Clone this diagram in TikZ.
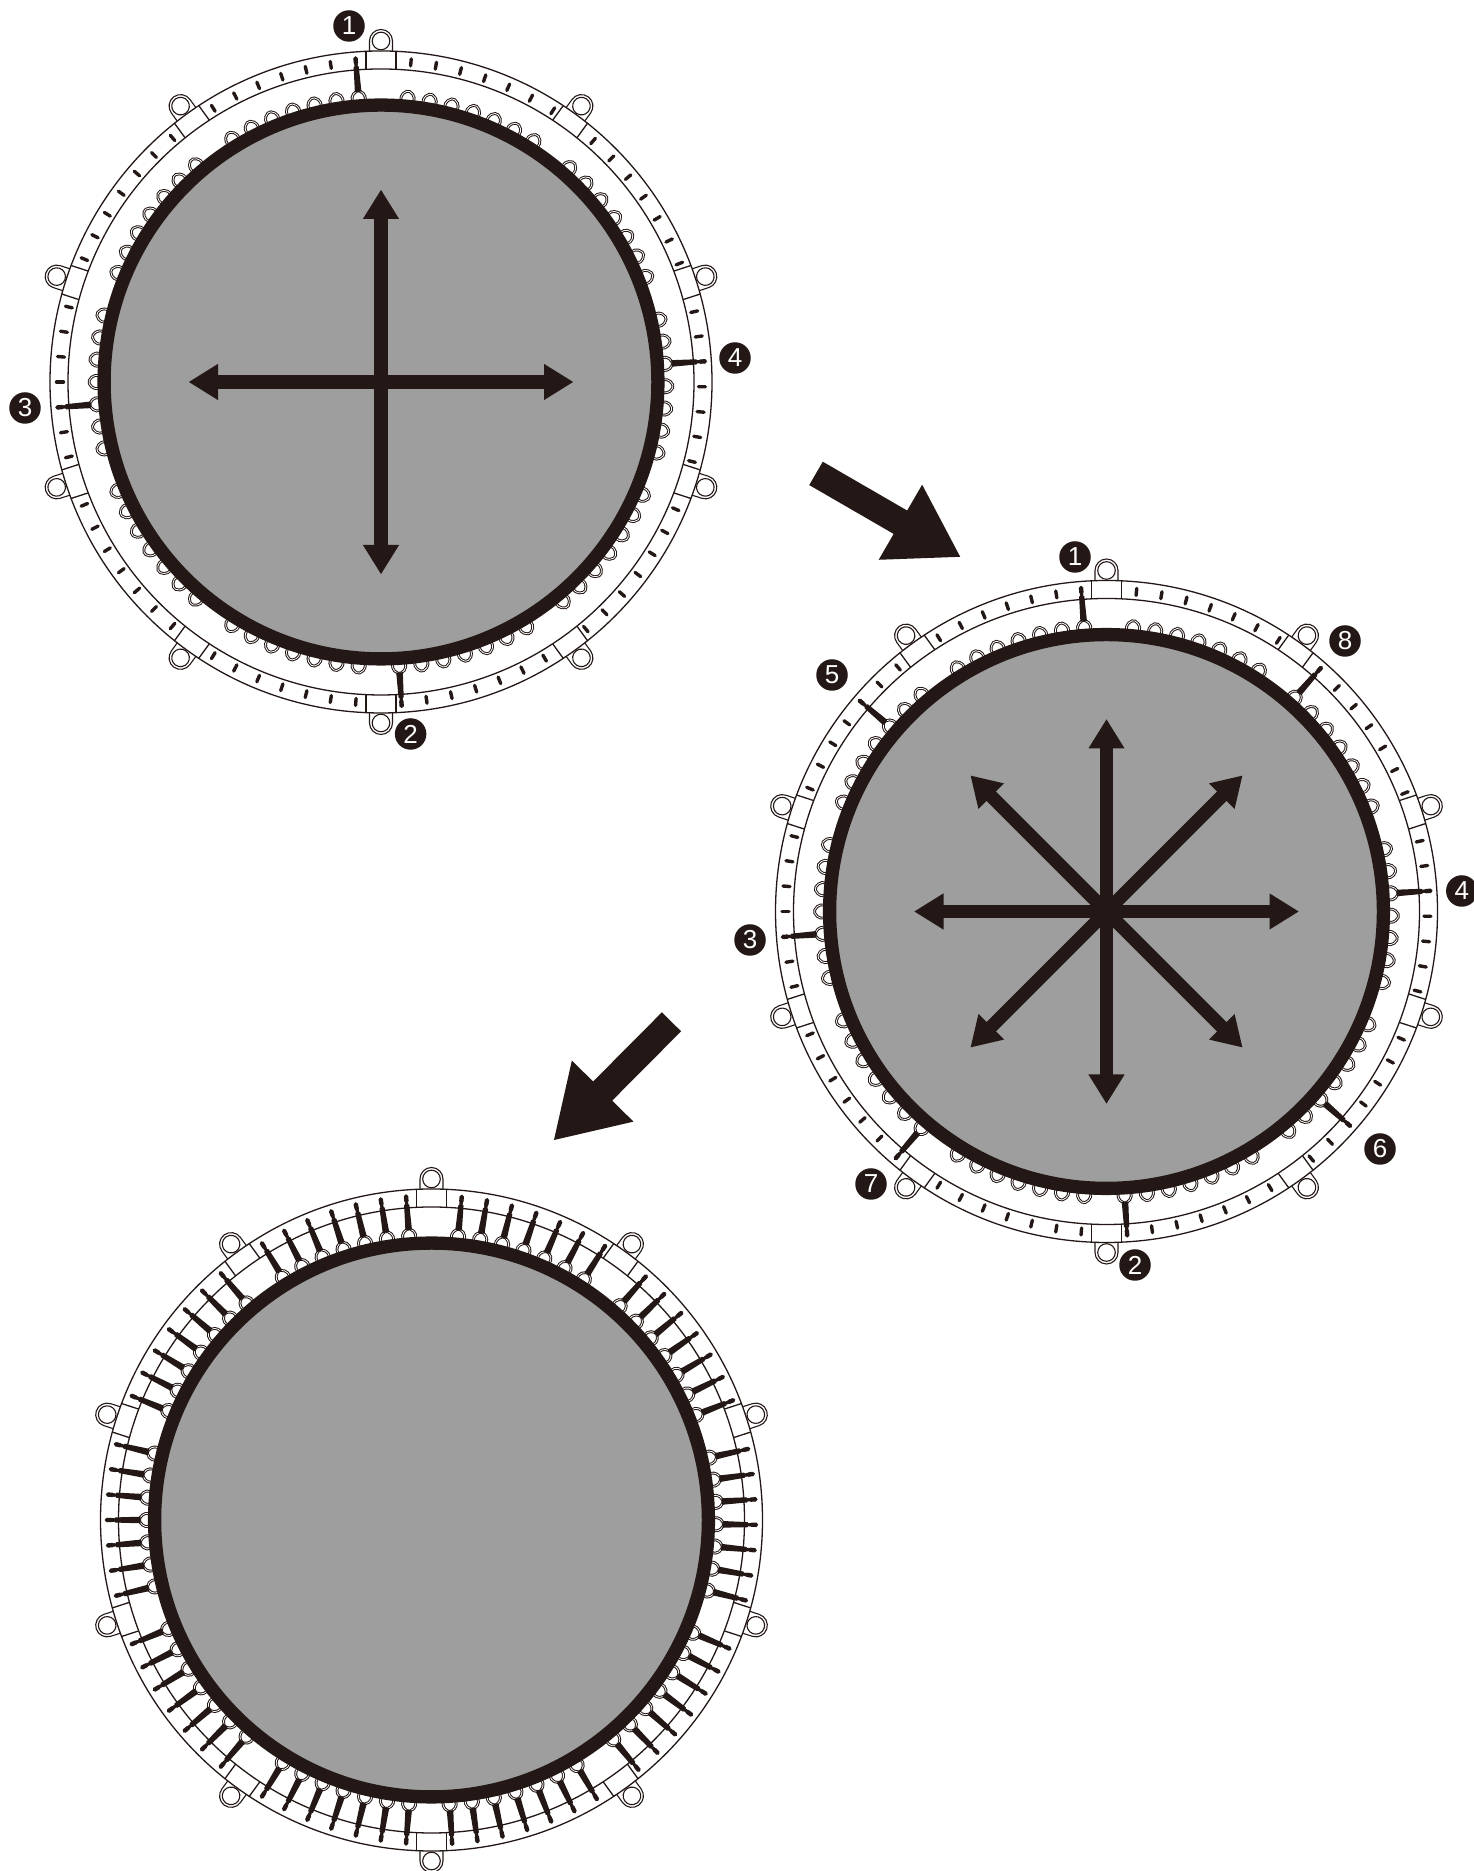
\documentclass[tikz,border=0pt]{standalone}
\usepackage{fontspec}
\setmainfont{Liberation Sans}
\usetikzlibrary{arrows.meta,calc}
\definecolor{matink}{HTML}{231815}
\definecolor{matgray}{HTML}{9E9E9F}
\tikzset{
 >={Triangle[length=29.5pt,width=34pt]},
 mat cloth/.style={fill=matgray,draw=matink,line width=13.3pt},
 mat ring/.style={draw=matink,line width=1.3pt},
 mat tick/.style={draw=matink,line width=3.4pt,line cap=round},
 mat ear/.style={draw=matink,line width=1.1pt},
 mat hook/.style={draw=matink,line width=1pt,double=white,double distance=.8pt,rounded corners=2pt},
 mat pull/.style={draw=matink,line width=13.2pt,<->},
 big arrow/.style={draw=matink,line width=27pt,-{Triangle[length=70pt,width=81.5pt]}},
 step call/.style={circle,fill=matink,text=white,minimum size=31.5pt,inner sep=0pt,
                   font=\fontsize{26}{26}\selectfont},
 pics/mat frame/.style={code={
  \draw[mat ring] (0,0) circle[radius=313];
  \draw[mat ring] (0,0) circle[radius=331];
  \foreach \s in {0,...,9}{
   \pgfmathsetmacro\secmid{72+36*\s}
   \pgfmathsetmacro\secoff{cos(\secmid)>0 ? -.85 : 0}
   \begin{scope}[rotate=\secmid-72]
    \draw[mat ring] (-15,313)--(-15,331) (15,313)--(15,331);
    \draw[mat ear] (-11.5,331)--(-11.5,341) arc[start angle=180,end angle=0,radius=11.5]--(11.5,331);
    \draw[mat ear] (0,341) circle[radius=8.8];
   \end{scope}
   \foreach \k in {-3,...,3}{
    \begin{scope}[rotate=\secmid+\secoff+4.5*\k-90]
     \draw[mat tick] (0,317.5)--(0,324.5);
     \draw[mat hook] (-6.5,281)--(-6.5,288)--(0,293)--(6.5,288)--(6.5,281);
    \end{scope}
   }
  }
  \draw[mat cloth] (0,0) circle[radius=276.9];
 }},
 pics/mat spring/.style={code={
  \fill[matink,rotate=-90] (-3.3,291)--(-2.6,316)--(-1.3,317)--(-1.3,319)--(-2.2,320)
   --(-2.2,325)--(0,326.8)--(2.2,325)--(2.2,320)--(1.3,319)--(1.3,317)--(2.6,316)--(3.3,291)--cycle;
 }}
}
\begin{document}
\begin{tikzpicture}[x=1pt,y=1pt]
 \useasboundingbox (0,0) rectangle (1474,1871);
 \coordinate (mat a) at (381,1489);
 \coordinate (mat b) at (1106.5,959.5);
 \coordinate (mat c) at (431.5,351);

 \pic at (mat a) {mat frame};
 \pic at (mat b) {mat frame};
 \pic at (mat c) {mat frame};

 \foreach \a in {94.5,-86.35,184.5,3.65}
  \pic[rotate=\a] at (mat a) {mat spring};
 \foreach \a in {94.5,-86.35,184.5,3.65,139.5,-41.35,229.5,48.65}
  \pic[rotate=\a] at (mat b) {mat spring};
 \foreach \s in {0,...,9}{
  \pgfmathsetmacro\secmid{72+36*\s}
  \pgfmathsetmacro\secoff{cos(\secmid)>0 ? -.85 : 0}
  \foreach \k in {-3,...,3}
   \pic[rotate=\secmid+\secoff+4.5*\k] at (mat c) {mat spring};
 }

 \foreach \a in {0,90}
  \draw[mat pull] ($(mat a)+(\a:-192.5)$)--($(mat a)+(\a:192.5)$);
 \foreach \a in {0,45,90,135}
  \draw[mat pull] ($(mat b)+(\a:-192.5)$)--($(mat b)+(\a:192.5)$);

 \coordinate (arrow ab tail) at (816,1397.6);
 \coordinate (arrow ab tip) at (961,1313.7);
 \coordinate (arrow bc tail) at (671.5,849.2);
 \coordinate (arrow bc tip) at (553.3,730.3);
 \draw[big arrow] (arrow ab tail)--(arrow ab tip);
 \draw[big arrow] (arrow bc tail)--(arrow bc tip);

 \node[step call] (a1) at (349,1845) {1};
 \node[step call] (a2) at (410.6,1137) {2};
 \node[step call] (a3) at (25,1463) {3};
 \node[step call] (a4) at (735,1513) {4};

 \node[step call] (b1) at (1075,1314) {1};
 \node[step call] (b2) at (1135,606) {2};
 \node[step call] (b3) at (750,931) {3};
 \node[step call] (b4) at (1461.8,980) {4};
 \node[step call] (b5) at (832,1196) {5};
 \node[step call] (b6) at (1380,722) {6};
 \node[step call] (b7) at (871,687) {7};
 \node[step call] (b8) at (1345,1230) {8};
\end{tikzpicture}
\end{document}
